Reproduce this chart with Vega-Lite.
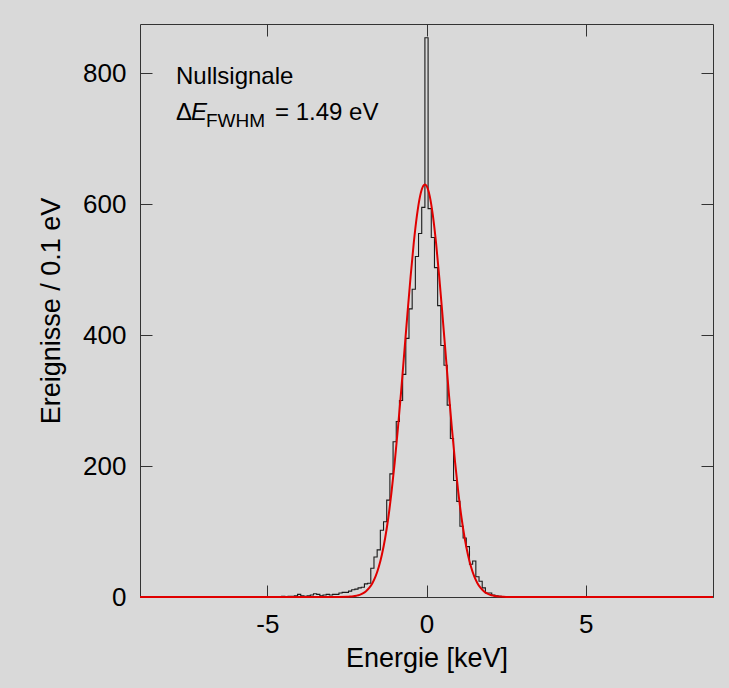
{
  "$schema": "https://vega.github.io/schema/vega-lite/v6.json",
  "width": 573,
  "height": 573,
  "autosize": {"type": "none"},
  "padding": {"left": 140, "top": 24, "right": 16, "bottom": 91},
  "background": "#d9d9d9",
  "config": {
    "view": {"stroke": "#333333", "strokeWidth": 1},
    "font": "Liberation Sans",
    "axis": {
      "grid": false,
      "domain": false,
      "tickColor": "#333333",
      "tickWidth": 1,
      "labelFont": "Liberation Sans",
      "labelFontSize": 26,
      "labelColor": "#000000",
      "titleFont": "Liberation Sans",
      "titleFontSize": 27,
      "titleFontWeight": "normal",
      "titleColor": "#000000"
    }
  },
  "datasets": {
    "hist": [
      {"E": -9.0, "n": 0}, {"E": -4.7, "n": 0}, {"E": -4.6, "n": 0}, {"E": -4.5, "n": 1}, {"E": -4.4, "n": 0},
      {"E": -4.3, "n": 1}, {"E": -4.2, "n": 1}, {"E": -4.1, "n": 2}, {"E": -4.0, "n": 4}, {"E": -3.9, "n": 2},
      {"E": -3.8, "n": 1}, {"E": -3.7, "n": 2}, {"E": -3.6, "n": 3}, {"E": -3.5, "n": 5}, {"E": -3.4, "n": 4},
      {"E": -3.3, "n": 2}, {"E": -3.2, "n": 3}, {"E": -3.1, "n": 4}, {"E": -3.0, "n": 3}, {"E": -2.9, "n": 4},
      {"E": -2.8, "n": 4}, {"E": -2.7, "n": 6}, {"E": -2.6, "n": 7}, {"E": -2.5, "n": 7}, {"E": -2.4, "n": 9},
      {"E": -2.3, "n": 11}, {"E": -2.2, "n": 12}, {"E": -2.1, "n": 14}, {"E": -2.0, "n": 15}, {"E": -1.9, "n": 20},
      {"E": -1.8, "n": 21}, {"E": -1.7, "n": 44}, {"E": -1.6, "n": 61}, {"E": -1.5, "n": 72}, {"E": -1.4, "n": 102},
      {"E": -1.3, "n": 115}, {"E": -1.2, "n": 148}, {"E": -1.1, "n": 188}, {"E": -1.0, "n": 237}, {"E": -0.9, "n": 268},
      {"E": -0.8, "n": 300}, {"E": -0.7, "n": 340}, {"E": -0.6, "n": 395}, {"E": -0.5, "n": 440}, {"E": -0.4, "n": 470},
      {"E": -0.3, "n": 520}, {"E": -0.2, "n": 555}, {"E": -0.1, "n": 595}, {"E": 0.0, "n": 854}, {"E": 0.1, "n": 593},
      {"E": 0.2, "n": 549}, {"E": 0.3, "n": 503}, {"E": 0.4, "n": 445}, {"E": 0.5, "n": 384}, {"E": 0.6, "n": 354},
      {"E": 0.7, "n": 293}, {"E": 0.8, "n": 242}, {"E": 0.9, "n": 178}, {"E": 1.0, "n": 146}, {"E": 1.1, "n": 108},
      {"E": 1.2, "n": 90}, {"E": 1.3, "n": 77}, {"E": 1.4, "n": 50}, {"E": 1.5, "n": 55}, {"E": 1.6, "n": 31},
      {"E": 1.7, "n": 24}, {"E": 1.8, "n": 14}, {"E": 1.9, "n": 6}, {"E": 2.0, "n": 6}, {"E": 2.1, "n": 3},
      {"E": 2.2, "n": 2}, {"E": 2.3, "n": 1}, {"E": 2.4, "n": 0}, {"E": 2.5, "n": 0}, {"E": 9.0, "n": 0}
    ],
    "fit": [
      {"E": -9.0, "f": 0}, {"E": -3.0, "f": 0}, {"E": -2.5, "f": 0.3}, {"E": -2.4, "f": 0.6}, {"E": -2.3, "f": 1.1},
      {"E": -2.2, "f": 2.0}, {"E": -2.1, "f": 3.3}, {"E": -2.0, "f": 5.5}, {"E": -1.9, "f": 8.8}, {"E": -1.8, "f": 13.8},
      {"E": -1.7, "f": 21.1}, {"E": -1.6, "f": 31.4}, {"E": -1.5, "f": 45.7}, {"E": -1.4, "f": 64.9}, {"E": -1.3, "f": 89.7},
      {"E": -1.2, "f": 121.0}, {"E": -1.1, "f": 159.6}, {"E": -1.0, "f": 204.8}, {"E": -0.9, "f": 256.5}, {"E": -0.8, "f": 312.2},
      {"E": -0.7, "f": 372.0}, {"E": -0.6, "f": 431.6}, {"E": -0.5, "f": 489.0}, {"E": -0.4, "f": 540.7}, {"E": -0.3, "f": 582.7},
      {"E": -0.2, "f": 612.6}, {"E": -0.1, "f": 628.0}, {"E": -0.05, "f": 630.0}, {"E": 0.0, "f": 628.0}, {"E": 0.1, "f": 612.6},
      {"E": 0.2, "f": 582.7}, {"E": 0.3, "f": 540.7}, {"E": 0.4, "f": 489.0}, {"E": 0.5, "f": 431.6}, {"E": 0.6, "f": 372.0},
      {"E": 0.7, "f": 312.2}, {"E": 0.8, "f": 256.5}, {"E": 0.9, "f": 204.8}, {"E": 1.0, "f": 159.6}, {"E": 1.1, "f": 121.0},
      {"E": 1.2, "f": 89.7}, {"E": 1.3, "f": 64.9}, {"E": 1.4, "f": 45.7}, {"E": 1.5, "f": 31.4}, {"E": 1.6, "f": 21.1},
      {"E": 1.7, "f": 13.8}, {"E": 1.8, "f": 8.8}, {"E": 1.9, "f": 5.5}, {"E": 2.0, "f": 3.3}, {"E": 2.1, "f": 2.0},
      {"E": 2.2, "f": 1.1}, {"E": 2.3, "f": 0.6}, {"E": 2.4, "f": 0.3}, {"E": 2.5, "f": 0.1}, {"E": 3.0, "f": 0},
      {"E": 9.0, "f": 0}
    ]
  },
  "resolve": {"axis": {"x": "independent", "y": "independent"}},
  "layer": [
    {
      "data": {"name": "hist"},
      "mark": {"type": "line", "interpolate": "step", "color": "#1a1a1a", "strokeWidth": 1.1},
      "encoding": {
        "x": {
          "field": "E", "type": "quantitative",
          "scale": {"domain": [-9, 9], "nice": false, "zero": false},
          "axis": {"orient": "bottom", "values": [-5, 0, 5], "labelExpr": "replace(datum.label, '−', '-')", "tickSize": -12, "labelPadding": 26, "title": "Energie [keV]", "titlePadding": 8}
        },
        "y": {
          "field": "n", "type": "quantitative",
          "scale": {"domain": [0, 875], "nice": false},
          "axis": {"orient": "left", "values": [0, 200, 400, 600, 800], "tickSize": -12, "labelPadding": 26, "title": "Ereignisse / 0.1 eV", "titlePadding": 17}
        }
      }
    },
    {
      "data": {"name": "fit"},
      "mark": {"type": "line", "interpolate": "monotone", "color": "#e00000", "strokeWidth": 2},
      "encoding": {
        "x": {
          "field": "E", "type": "quantitative",
          "axis": {"orient": "top", "values": [-5, 0, 5], "tickSize": -12, "labels": false, "title": null}
        },
        "y": {
          "field": "f", "type": "quantitative",
          "axis": {"orient": "right", "values": [0, 200, 400, 600, 800], "tickSize": -12, "labels": false, "title": null}
        }
      }
    },
    {
      "data": {"values": [{}]},
      "mark": {"type": "text", "text": "Nullsignale", "align": "left", "baseline": "middle", "fontSize": 24, "color": "#000000"},
      "encoding": {
        "x": {"datum": -7.87, "type": "quantitative", "axis": null},
        "y": {"datum": 794, "type": "quantitative", "axis": null}
      }
    },
    {
      "data": {"values": [{}]},
      "mark": {"type": "text", "text": "Δ", "align": "left", "baseline": "middle", "fontSize": 24, "color": "#000000"},
      "encoding": {
        "x": {"datum": -7.87, "type": "quantitative", "axis": null},
        "y": {"datum": 739, "type": "quantitative", "axis": null}
      }
    },
    {
      "data": {"values": [{}]},
      "mark": {"type": "text", "text": "E", "align": "left", "baseline": "middle", "fontSize": 24, "fontStyle": "italic", "dx": 15, "color": "#000000"},
      "encoding": {
        "x": {"datum": -7.87, "type": "quantitative", "axis": null},
        "y": {"datum": 739, "type": "quantitative", "axis": null}
      }
    },
    {
      "data": {"values": [{}]},
      "mark": {"type": "text", "text": "FWHM", "align": "left", "baseline": "middle", "fontSize": 19, "dx": 30, "dy": 8, "color": "#000000"},
      "encoding": {
        "x": {"datum": -7.87, "type": "quantitative", "axis": null},
        "y": {"datum": 739, "type": "quantitative", "axis": null}
      }
    },
    {
      "data": {"values": [{}]},
      "mark": {"type": "text", "text": "= 1.49 eV", "align": "left", "baseline": "middle", "fontSize": 24, "dx": 99, "color": "#000000"},
      "encoding": {
        "x": {"datum": -7.87, "type": "quantitative", "axis": null},
        "y": {"datum": 739, "type": "quantitative", "axis": null}
      }
    }
  ]
}
